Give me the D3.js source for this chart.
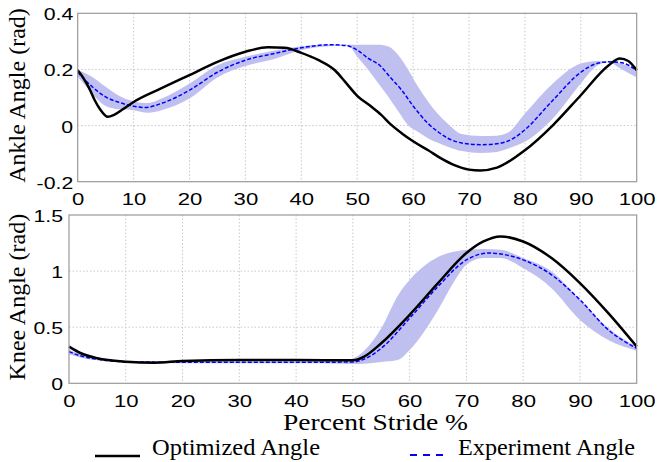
<!DOCTYPE html>
<html>
<head>
<meta charset="utf-8">
<script src="https://cdn.jsdelivr.net/npm/d3@7"></script>
<style>
  body { margin: 0; background: #fff; }
</style>
</head>
<body>
<script>
// x positions (percent stride) and values
const xTicks = [0, 10, 20, 30, 40, 50, 60, 70, 80, 90, 100];
const xTickLabels = ["0", "10", "20", "30", "40", "50", "60", "70", "80", "90", "100"];

const ankleTicks = [-0.2, 0, 0.2, 0.4];
const ankleTickLabels = ["-0.2", "0", "0.2", "0.4"];
const kneeTicks = [0, 0.5, 1, 1.5];
const kneeTickLabels = ["0", "0.5", "1", "1.5"];

// ankle, optimized
const ankleOptX = [0, 1, 2, 3, 4, 5.4, 6.5, 8, 10, 15, 20, 25, 30, 34, 37, 40, 43, 46, 48, 50, 52.5, 54.3, 56, 58, 60, 62.7, 65, 67.5, 70, 72, 75, 80, 85, 90, 95, 97, 98.5, 100];
const ankleOpt = [0.197, 0.17, 0.135, 0.092, 0.058, 0.031, 0.038, 0.057, 0.084, 0.133, 0.18, 0.227, 0.263, 0.279, 0.277, 0.259, 0.234, 0.197, 0.152, 0.106, 0.068, 0.038, 0.004, -0.028, -0.056, -0.088, -0.117, -0.142, -0.157, -0.16, -0.15, -0.088, 0.001, 0.108, 0.215, 0.239, 0.23, 0.197];

// ankle, experiment mean
const ankleExpX = [0, 2.5, 5, 7.5, 10, 12, 15, 20, 25, 30, 35, 40, 45, 48, 50, 52, 54, 56, 58, 60, 62.7, 64.5, 66.3, 68.7, 72, 75, 78, 80, 85, 90, 93, 95, 97, 100];
const ankleExp = [0.19, 0.14, 0.102, 0.082, 0.069, 0.064, 0.079, 0.126, 0.19, 0.233, 0.256, 0.277, 0.288, 0.285, 0.269, 0.239, 0.215, 0.17, 0.125, 0.07, 0.007, -0.023, -0.046, -0.062, -0.068, -0.065, -0.045, -0.015, 0.09, 0.19, 0.222, 0.227, 0.225, 0.197];

// ankle, experiment spread
const ankleBandX = [0, 2, 5, 7.5, 10, 12.5, 15, 20, 25, 30, 35, 40, 45, 48.4, 50, 52, 53.8, 55.6, 57.4, 59.1, 60.9, 62.7, 64.5, 66.3, 68.7, 72, 75, 77, 80, 85, 90, 93, 95, 97, 100];
const ankleUpper = [0.198, 0.18, 0.138, 0.105, 0.086, 0.08, 0.096, 0.15, 0.215, 0.245, 0.267, 0.283, 0.289, 0.288, 0.288, 0.288, 0.288, 0.282, 0.25, 0.2, 0.138, 0.085, 0.04, 0.005, -0.03, -0.037, -0.036, -0.025, 0.043, 0.15, 0.221, 0.23, 0.228, 0.222, 0.197];
const ankleLower = [0.175, 0.128, 0.07, 0.058, 0.055, 0.046, 0.055, 0.096, 0.171, 0.212, 0.236, 0.269, 0.283, 0.284, 0.245, 0.198, 0.15, 0.102, 0.049, 0.001, -0.023, -0.046, -0.062, -0.076, -0.091, -0.098, -0.094, -0.082, -0.058, 0.025, 0.15, 0.215, 0.226, 0.204, 0.171];

// knee, optimized
const kneeOptX = [0, 2, 5, 10, 15, 20, 30, 40, 50, 52, 55, 60, 65, 70, 73, 76, 80, 85, 90, 95, 100];
const kneeOpt = [0.327, 0.27, 0.223, 0.193, 0.184, 0.199, 0.208, 0.208, 0.205, 0.238, 0.357, 0.61, 0.893, 1.161, 1.264, 1.309, 1.264, 1.116, 0.893, 0.625, 0.327];

// knee, experiment mean
const kneeExpX = [0, 2, 5, 10, 20, 30, 40, 50, 52, 55, 60, 65, 70, 74, 80, 85, 90, 95, 100];
const kneeExp = [0.282, 0.245, 0.214, 0.193, 0.187, 0.187, 0.187, 0.19, 0.215, 0.312, 0.58, 0.863, 1.1, 1.161, 1.1, 0.967, 0.744, 0.476, 0.312];

// knee, experiment spread
const kneeBandX = [0, 2, 5, 10, 20, 30, 40, 48, 50, 52, 55, 58, 60, 65, 68, 70, 73, 76, 80, 85, 90, 95, 100];
const kneeUpper = [0.3, 0.26, 0.225, 0.2, 0.195, 0.195, 0.195, 0.2, 0.22, 0.29, 0.49, 0.788, 0.92, 1.125, 1.175, 1.19, 1.196, 1.19, 1.116, 0.997, 0.744, 0.491, 0.327];
const kneeLower = [0.26, 0.23, 0.205, 0.185, 0.178, 0.178, 0.178, 0.175, 0.172, 0.175, 0.19, 0.21, 0.297, 0.654, 0.92, 1.056, 1.116, 1.116, 1.027, 0.848, 0.565, 0.387, 0.291];

const legendLabels = ["Optimized Angle", "Experiment Angle"];

const W = 661, H = 462;
const sansFont = "Liberation Sans";
const serifFont = "Liberation Serif";

const svg = d3.select("body").append("svg")
    .attr("width", W)
    .attr("height", H);

const bandColor = "#c0c0f0";
const frameColor = "#999";

// stretch text horizontally, the figure fonts look widened
function stretch(sel, k) {
    sel.each(function() {
        const w = this.getComputedTextLength();
        d3.select(this).attr("textLength", w * k).attr("lengthAdjust", "spacingAndGlyphs");
    });
}

function panel(opts) {
    const x = d3.scaleLinear().domain([0, 100]).range([opts.left, opts.right]);
    const y = d3.scaleLinear().domain(opts.yDomain).range([opts.bottom, opts.top]);
    const g = svg.append("g");

    // grid
    g.selectAll(".gx").data(xTicks.slice(1, -1)).enter().append("line")
        .attr("x1", d => x(d)).attr("x2", d => x(d))
        .attr("y1", opts.top).attr("y2", opts.bottom)
        .attr("stroke", "#c8c8c8").attr("stroke-width", 1).attr("stroke-dasharray", "1.5,2");
    g.selectAll(".gy").data(opts.yTicks.slice(1, -1)).enter().append("line")
        .attr("y1", d => y(d)).attr("y2", d => y(d))
        .attr("x1", opts.left).attr("x2", opts.right)
        .attr("stroke", "#c8c8c8").attr("stroke-width", 1).attr("stroke-dasharray", "1.5,2");

    // spread band
    const band = opts.bandX.map((d, i) => ({x: d, lo: opts.lower[i], hi: opts.upper[i]}));
    g.append("path")
        .datum(band)
        .attr("fill", bandColor)
        .attr("d", d3.area().curve(d3.curveMonotoneX)
            .x(d => x(d.x)).y0(d => y(d.lo)).y1(d => y(d.hi)));

    const line = d3.line().curve(d3.curveMonotoneX).x(d => x(d[0])).y(d => y(d[1]));

    g.append("path")
        .datum(opts.expX.map((d, i) => [d, opts.exp[i]]))
        .attr("fill", "none")
        .attr("stroke", "#0000ff")
        .attr("stroke-width", 1.5)
        .attr("stroke-dasharray", "4,2")
        .attr("d", line);

    g.append("path")
        .datum(opts.optX.map((d, i) => [d, opts.opt[i]]))
        .attr("fill", "none")
        .attr("stroke", "#000")
        .attr("stroke-width", 2.5)
        .attr("d", line);

    // frame
    g.append("rect")
        .attr("x", opts.left).attr("y", opts.top)
        .attr("width", opts.right - opts.left).attr("height", opts.bottom - opts.top)
        .attr("fill", "none").attr("stroke", frameColor).attr("stroke-width", 1.2);

    // axes
    const xa = g.append("g")
        .attr("transform", `translate(0,${opts.bottom})`)
        .call(d3.axisBottom(x).tickValues(xTicks).tickSize(0)
            .tickFormat((d, i) => xTickLabels[i]));
    xa.select(".domain").remove();
    xa.attr("font-family", sansFont).attr("font-size", 17);
    xa.selectAll("text").attr("fill", "#000")
        .attr("y", 23.5).attr("dy", 0).call(stretch, 1.3);

    const ya = g.append("g")
        .attr("transform", `translate(${opts.left},0)`)
        .call(d3.axisLeft(y).tickValues(opts.yTicks).tickSize(0)
            .tickFormat((d, i) => opts.yTickLabels[i]));
    ya.select(".domain").remove();
    ya.attr("font-family", sansFont).attr("font-size", 17);
    ya.selectAll("text").attr("fill", "#000")
        .attr("x", -opts.yGap).attr("y", 6.5).attr("dy", 0).call(stretch, 1.25);

    // y title
    svg.append("text")
        .attr("font-family", serifFont)
        .attr("font-size", 24)
        .attr("transform", `translate(25,${(opts.top + opts.bottom) / 2 - 2}) rotate(-90)`)
        .attr("text-anchor", "middle")
        .text(opts.yTitle);
}

panel({
    left: 77.7, right: 636.7, top: 13.3, bottom: 181.7,
    yDomain: [-0.2, 0.4], yTicks: ankleTicks, yTickLabels: ankleTickLabels, yGap: 4.5,
    bandX: ankleBandX, upper: ankleUpper, lower: ankleLower,
    expX: ankleExpX, exp: ankleExp, optX: ankleOptX, opt: ankleOpt,
    yTitle: "Ankle Angle (rad)"
});

panel({
    left: 69, right: 636.7, top: 215, bottom: 383.3,
    yDomain: [0, 1.5], yTicks: kneeTicks, yTickLabels: kneeTickLabels, yGap: 6,
    bandX: kneeBandX, upper: kneeUpper, lower: kneeLower,
    expX: kneeExpX, exp: kneeExp, optX: kneeOptX, opt: kneeOpt,
    yTitle: "Knee Angle (rad)"
});

// x title
svg.append("text")
    .attr("font-family", serifFont)
    .attr("font-size", 24)
    .attr("x", 283).attr("y", 430)
    .attr("textLength", 185).attr("lengthAdjust", "spacingAndGlyphs")
    .text("Percent Stride %");

// legend
svg.append("line")
    .attr("x1", 95).attr("x2", 140).attr("y1", 456).attr("y2", 456)
    .attr("stroke", "#000").attr("stroke-width", 2.5);
svg.append("text")
    .attr("font-family", serifFont)
    .attr("font-size", 23)
    .attr("x", 152).attr("y", 455)
    .attr("textLength", 168).attr("lengthAdjust", "spacingAndGlyphs")
    .text(legendLabels[0]);

svg.append("line")
    .attr("x1", 410).attr("x2", 447).attr("y1", 455).attr("y2", 455)
    .attr("stroke", "#0000ff").attr("stroke-width", 1.8).attr("stroke-dasharray", "7,6");
svg.append("text")
    .attr("font-family", serifFont)
    .attr("font-size", 23)
    .attr("x", 458).attr("y", 455)
    .attr("textLength", 177).attr("lengthAdjust", "spacingAndGlyphs")
    .text(legendLabels[1]);
</script>
</body>
</html>
